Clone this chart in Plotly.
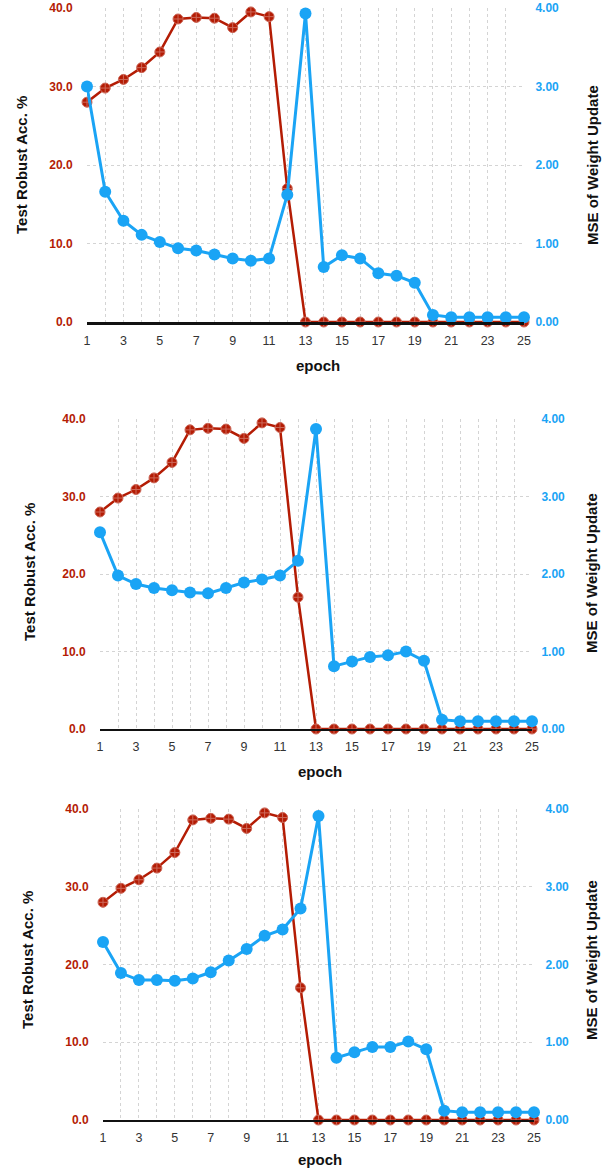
import plotly.graph_objects as go

W, H = 607, 1170

epochs = list(range(1, 26))

acc = [28.0, 29.8, 30.9, 32.4, 34.4, 38.6, 38.8, 38.7, 37.5, 39.5, 38.9, 17.0, 0.0,
       0.0, 0.0, 0.0, 0.0, 0.0, 0.0, 0.0, 0.0, 0.0, 0.0, 0.0, 0.0]

mse_1 = [3.00, 1.66, 1.29, 1.11, 1.02, 0.94, 0.91, 0.86, 0.81, 0.78, 0.81, 1.62, 3.93,
         0.70, 0.85, 0.81, 0.62, 0.59, 0.50, 0.09, 0.06, 0.06, 0.06, 0.06, 0.06]
mse_2 = [2.54, 1.98, 1.87, 1.82, 1.79, 1.76, 1.75, 1.82, 1.89, 1.93, 1.98, 2.17, 3.87,
         0.81, 0.87, 0.93, 0.95, 1.00, 0.88, 0.12, 0.10, 0.10, 0.10, 0.10, 0.10]
mse_3 = [2.29, 1.89, 1.80, 1.80, 1.79, 1.82, 1.90, 2.05, 2.20, 2.37, 2.45, 2.72, 3.91,
         0.80, 0.87, 0.94, 0.94, 1.01, 0.91, 0.12, 0.10, 0.10, 0.10, 0.10, 0.10]

left_title = "Test Robust Acc. %"
right_title = "MSE of Weight Update"
x_title = "epoch"

RED = "rgb(180,28,4)"
BLUE = "rgb(26,164,245)"
FONT = "Liberation Sans"
GRID = "#d4d4d4"

# panel geometry in pixels
panels = [
    dict(x0=87, x1=524, y0=8, y1=322, lw=3, mse=mse_1, lt=(22, 165), rt=(593, 165), et=(318, 365), rpad=11),
    dict(x0=100, x1=532, y0=419, y1=729, lw=1.5, mse=mse_2, lt=(29, 572), rt=(591, 573), et=(320, 771), rpad=9),
    dict(x0=103, x1=534, y0=809, y1=1120, lw=1.5, mse=mse_3, lt=(27, 960), rt=(591, 960), et=(320, 1159), rpad=11),
]

def px(x):
    return x / W

def py(y):
    return 1 - y / H

fig = go.Figure()
layout = dict(width=W, height=H, autosize=False,
              margin=dict(l=0, r=0, t=0, b=0, pad=0, autoexpand=False),
              paper_bgcolor="white", plot_bgcolor="white", showlegend=False,
              font=dict(family=FONT))
annotations = []

for i, p in enumerate(panels):
    xa = "x" if i == 0 else f"x{i+1}"
    yl = 2 * i + 1
    yr = 2 * i + 2
    yl_name = "y" if yl == 1 else f"y{yl}"
    yr_name = f"y{yr}"

    fig.add_trace(go.Scatter(
        x=epochs, y=acc, xaxis=xa, yaxis=yl_name, mode="lines+markers",
        line=dict(color=RED, width=2.5),
        marker=dict(symbol="circle-cross", size=10, color=RED,
                    line=dict(color="rgb(205,105,90)", width=1)),
        cliponaxis=False))
    fig.add_trace(go.Scatter(
        x=epochs, y=p["mse"], xaxis=xa, yaxis=yr_name, mode="lines+markers",
        line=dict(color=BLUE, width=3),
        marker=dict(symbol="circle", size=12, color=BLUE),
        cliponaxis=False))

    xkey = "xaxis" if i == 0 else f"xaxis{i+1}"
    ylkey = "yaxis" if yl == 1 else f"yaxis{yl}"
    yrkey = f"yaxis{yr}"

    layout[xkey] = dict(
        domain=[px(p["x0"]), px(p["x1"])], anchor=yl_name, range=[1, 25],
        automargin=False,
        tickmode="array", tickvals=list(range(1, 26, 2)),
        ticktext=[str(v) for v in range(1, 26, 2)],
        ticks="outside", ticklen=5, tickcolor="rgba(0,0,0,0)",
        tickfont=dict(family=FONT, size=12.5, color="#333"),
        showgrid=True, gridcolor=GRID, griddash="dot", gridwidth=1,
        minor=dict(tickmode="array", tickvals=list(range(2, 25, 2)), showgrid=True,
                   gridcolor=GRID, griddash="dot", gridwidth=1),
        showline=True, linecolor="#111", linewidth=p["lw"],
        zeroline=False, fixedrange=True)
    layout[ylkey] = dict(
        domain=[py(p["y1"]), py(p["y0"])], anchor=xa, range=[0, 40],
        automargin=False,
        tickmode="array", tickvals=[0, 10, 20, 30, 40], tickformat=".1f",
        ticks="outside", ticklen=11, tickcolor="rgba(0,0,0,0)",
        tickfont=dict(family=FONT, size=12, color=RED, weight="bold"),
        showgrid=True, gridcolor=GRID, griddash="dot", gridwidth=1,
        showline=False, zeroline=False, fixedrange=True)
    layout[yrkey] = dict(
        domain=[py(p["y1"]), py(p["y0"])], anchor=xa, overlaying=yl_name, side="right",
        automargin=False,
        range=[0, 4], tickmode="array", tickvals=[0, 1, 2, 3, 4], tickformat=".2f",
        ticks="outside", ticklen=p["rpad"] - 3, tickcolor="rgba(0,0,0,0)",
        tickfont=dict(family=FONT, size=12, color=BLUE, weight="bold"),
        showgrid=False, showline=False, zeroline=False, fixedrange=True)

    annotations.append(dict(text=left_title, x=px(p["lt"][0]), y=py(p["lt"][1]),
                            xref="paper", yref="paper", showarrow=False, textangle=-90,
                            xanchor="center", yanchor="middle",
                            font=dict(family=FONT, size=15, color="#111", weight="bold")))
    annotations.append(dict(text=right_title, x=px(p["rt"][0]), y=py(p["rt"][1]),
                            xref="paper", yref="paper", showarrow=False, textangle=-90,
                            xanchor="center", yanchor="middle",
                            font=dict(family=FONT, size=15, color="#111", weight="bold")))
    annotations.append(dict(text=x_title, x=px(p["et"][0]), y=py(p["et"][1]),
                            xref="paper", yref="paper", showarrow=False,
                            xanchor="center", yanchor="middle",
                            font=dict(family=FONT, size=15, color="#111", weight="bold")))

layout["annotations"] = annotations
fig.update_layout(**layout)
fig.write_html("out.html", config={"displayModeBar": False},
               post_script="document.body.style.margin='0';document.body.style.overflow='hidden';")
